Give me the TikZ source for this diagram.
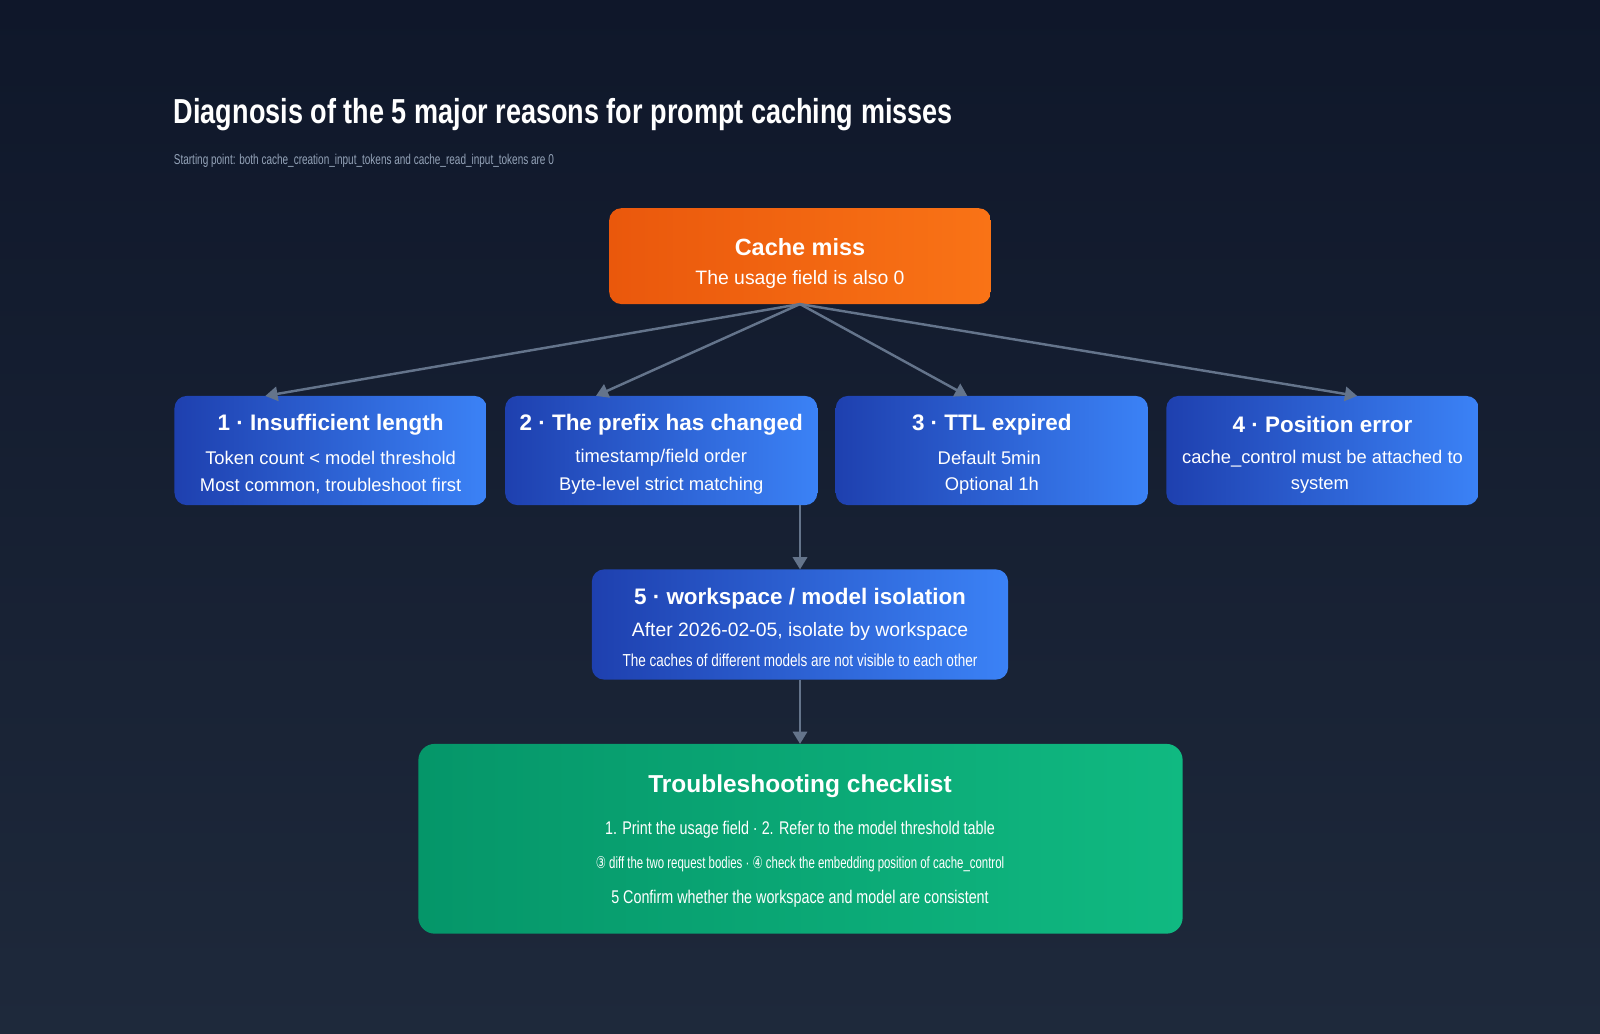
\documentclass[tikz,border=0pt]{standalone}
\usepackage{fontspec}
\setmainfont{Liberation Sans}
\newfontfamily\djv{DejaVu Sans}
\usetikzlibrary{arrows.meta}
\definecolor{bgA}{HTML}{0F172A}
\definecolor{bgB}{HTML}{1E293B}
\definecolor{orA}{HTML}{EA580C}
\definecolor{orB}{HTML}{F97316}
\definecolor{blA}{HTML}{1E40AF}
\definecolor{blB}{HTML}{3B82F6}
\definecolor{grA}{HTML}{059669}
\definecolor{grB}{HTML}{10B981}
\definecolor{arr}{HTML}{64748B}
\definecolor{sub}{HTML}{94A3B8}
\newcommand{\cond}[1]{\scalebox{0.78}[1]{#1}}
\tikzset{
 boxo/.style={rounded corners=6pt, left color=orA, right color=orB},
 boxb/.style={rounded corners=6pt, left color=blA, right color=blB},
 boxg/.style={rounded corners=8pt, left color=grA, right color=grB},
 conn/.style={draw=arr, line width=1.2pt, -{Triangle[length=6pt,width=7pt]}},
 txt/.style={text=white, align=center, inner sep=0pt},
}
\begin{document}
\begin{tikzpicture}[x=0.5pt,y=-0.5pt]
\useasboundingbox (0,0) rectangle (1568,1013);
\shade[top color=bgA, bottom color=bgB] (0,0) rectangle (1568,1013);
\node[txt, anchor=west, font=\bfseries\fontsize{17}{20}\selectfont] (title) at (170,112) {\cond{Diagnosis of the 5 major reasons for prompt caching misses}};
\node[text=sub, inner sep=0pt, anchor=west, font=\fontsize{7}{8}\selectfont] (subt) at (170,158) {\scalebox{0.7}[1]{Starting point: both cache\_creation\_input\_tokens and cache\_read\_input\_tokens are 0}};

\path[boxo] (597,204) rectangle (971,298);
\node[txt, font=\bfseries\fontsize{11.5}{14}\selectfont] (cm) at (784,242) {Cache miss};
\node[txt, font=\fontsize{9.5}{12}\selectfont] (cm2) at (784,274) {The usage field is also 0};
\coordinate (cmb) at (784,298);

\foreach \x/\t/\a/\b [count=\i] in {171/1 · Insufficient length/Token count < model threshold/{Most common, troubleshoot first},
 495/2 · The prefix has changed/timestamp\slash field order/Byte-level strict matching,
 819/3 · TTL expired/Default 5min / Optional 1h/Write fee 1.25x / 2x,
 1143/4 · Position error/cache\_control must be attached to/system / messages / tools}{
 \path[boxb] (\x,388) rectangle ++(306,107);
 \node[txt, font=\bfseries\fontsize{11}{13}\selectfont] (r\i) at (\x+153,416) {\t};
 \node[txt, font=\fontsize{9}{11}\selectfont] (ra\i) at (\x+153,449) {\a};
 \node[txt, font=\fontsize{9}{11}\selectfont] (rb\i) at (\x+153,476) {\b};
}
\coordinate (t1) at (260,388);
\coordinate (t2) at (584,388);
\coordinate (t3) at (948,388);
\coordinate (t4) at (1330,388);
\foreach \i in {1,...,4} \draw[conn] (cmb) -- (t\i);

\path[boxb] (580,558) rectangle (988,666);
\node[txt, font=\bfseries\fontsize{11}{13}\selectfont] (f) at (784,587) {5 · workspace / model isolation};
\node[txt, font=\fontsize{9.5}{12}\selectfont] (f2) at (784,619) {After 2026-02-05, isolate by workspace};
\node[txt, font=\fontsize{8.5}{10}\selectfont] (f3) at (784,647) {\cond{The caches of different models are not visible to each other}};
\coordinate (p2b) at (784,495);
\coordinate (ft) at (784,558);
\coordinate (fb) at (784,666);
\draw[conn] (p2b) -- (ft);

\path[boxg] (410,729) rectangle (1159,915);
\coordinate (gt) at (784,729);
\draw[conn] (fb) -- (gt);
\node[txt, font=\bfseries\fontsize{12}{14}\selectfont] (g) at (784,770) {Troubleshooting checklist};
\node[txt, font=\fontsize{9}{11}\selectfont] (g1) at (784,813) {\cond{1. Print the usage field · 2. Refer to the model threshold table}};
\node[txt, font=\fontsize{8}{10}\selectfont] (g2) at (784,847) {\scalebox{0.7}[1]{{\djv ③} diff the two request bodies · {\djv ④} check the embedding position of cache\_control}};
\node[txt, font=\fontsize{9}{11}\selectfont] (g3) at (784,881) {\cond{5 Confirm whether the workspace and model are consistent}};
\end{tikzpicture}
\end{document}
